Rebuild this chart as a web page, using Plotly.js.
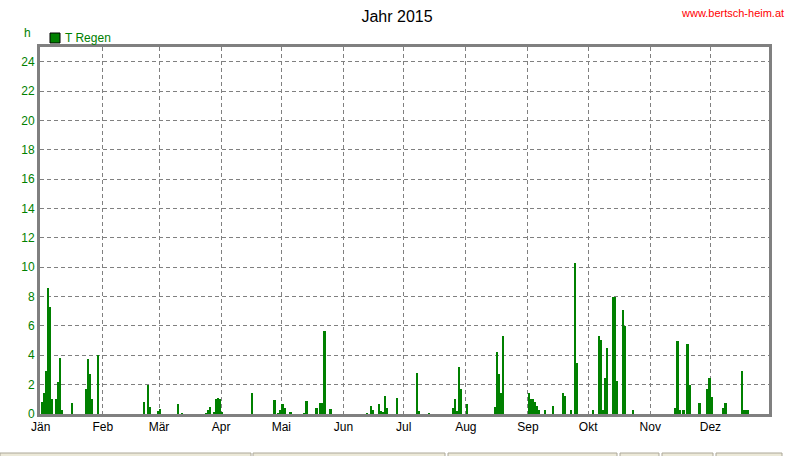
<!DOCTYPE html>
<html>
<head>
<meta charset="utf-8">
<script src="https://cdn.plot.ly/plotly-3.0.1.min.js"></script>
<style>html,body{margin:0;padding:0;background:#fff;}#chart{width:790px;height:456px;}</style>
</head>
<body>
<div id="chart"></div>
<script>
// Day of year (0 = 1 Jan 2015) with rain
const rainDays = [0,1,2,3,4,5, 7,8,9,10, 15, 22,23,24,25, 28,
  51,53,54, 58,59, 68,70, 82,83,84, 86,87,88,89,90, 105,
  116,118,119,120,121,124, 131,132,137,139,140,141,144,
  162,164,165,168,169,170,171,172, 177, 187,188, 193,
  205,206,207,208,209, 212, 226,227,228,229,230,
  243,244,245,246,247,248, 251,255, 260,261,264,266,267, 275,
  278,279,280,281,282, 285,286,287, 290,291, 295,
  316,317,318,320,322,323, 328, 332,333,334, 340,341, 349,350,351,352];
// Rain duration in hours
const rainHours = [0.8,1.4,2.9,8.6,7.3,1.0, 1.0,2.2,3.8,0.3, 0.75, 1.7,3.75,2.7,1.05, 4.0,
  0.8,2.0,0.5, 0.2,0.35, 0.7,0.1, 0.1,0.3,0.5, 0.15,1.0,1.1,1.0,0.15, 1.4,
  0.95,0.1,0.25,0.7,0.4,0.12, 0.07,0.87,0.4,0.73,0.75,5.63,0.32,
  0.1,0.57,0.25,0.67,0.2,0.12,1.2,0.4, 1.06, 2.8,0.23, 0.05,
  0.44,1.0,0.23,3.2,1.7, 0.7, 0.46,4.25,2.74,1.44,5.28,
  1.44,1.05,1.05,0.8,0.55,0.3, 0.27,0.55, 1.44,1.2,0.27,10.3,3.5, 0.27,
  5.28,5.03,0.27,2.47,4.53, 8.0,8.0,2.26, 7.06,6.0, 0.27,
  0.44,5.0,0.25,0.25,4.74,1.95, 0.74, 1.7,2.46,1.15, 0.44,0.74, 2.94,0.25,0.25,0.25];
const monthStarts = [0,31,59,90,120,151,181,212,243,273,304,334];
const monthLabels = ['Jän','Feb','Mär','Apr','Mai','Jun','Jul','Aug','Sep','Okt','Nov','Dez'];
const yTicks = [0,2,4,6,8,10,12,14,16,18,20,22,24];
const seriesName = 'T Regen';

const L = 40, R = 21, T = 47, B = 42, W = 790, H = 456;
const pw = W - L - R, ph = H - T - B;
const px = x => (x - L) / pw;
const py = y => (H - B - y) / ph;

const green = '#008000', gray = '#808080';
const fam = 'Liberation Sans, Arial, sans-serif';

const trace = {
  type: 'bar', name: seriesName, x: rainDays, y: rainHours,
  width: 1.1, offset: 0,
  marker: {color: green, line: {width: 0}},
  hoverinfo: 'x+y', showlegend: false
};

const panels = [[0,251],[253,445],[448,617],[620,659],[662,713],[716,782]];
const shapes = panels.map(p => ({
  type: 'rect', xref: 'paper', yref: 'paper',
  x0: px(p[0]), x1: px(p[1]), y0: py(453), y1: py(462),
  fillcolor: '#ECE9D8', line: {color: '#ACA899', width: 1}, layer: 'above'
}));
shapes.push({type: 'rect', xref: 'paper', yref: 'paper',
  x0: px(50), x1: px(60), y0: py(43), y1: py(33),
  fillcolor: green, line: {color: '#000', width: 1}});

const layout = {
  width: W, height: H,
  margin: {l: L, r: R, t: T, b: B, pad: 0},
  paper_bgcolor: '#fff', plot_bgcolor: '#fff',
  bargap: 0,
  font: {family: fam, size: 12, color: '#000'},
  title: {text: 'Jahr 2015', font: {family: fam, size: 16, color: '#000'},
    xref: 'container', x: 397/790, xanchor: 'center', yref: 'container', y: 1 - 16/456, yanchor: 'middle'},
  xaxis: {
    range: [-0.35, 363.2], tickmode: 'array', tickvals: monthStarts, ticktext: monthLabels,
    showgrid: true, gridcolor: gray, gridwidth: 1, griddash: '4px,3px',
    showline: true, linecolor: gray, linewidth: 3, mirror: true,
    ticks: '', zeroline: false, fixedrange: true,
    tickfont: {family: fam, size: 12, color: '#000'}
  },
  yaxis: {
    range: [0, 25], tickmode: 'array', tickvals: yTicks,
    showgrid: true, gridcolor: gray, gridwidth: 1, griddash: '4px,3px',
    showline: true, linecolor: gray, linewidth: 3, mirror: true,
    ticks: '', zeroline: false, fixedrange: true,
    tickfont: {family: fam, size: 12, color: green}
  },
  shapes: shapes,
  annotations: [
    {text: 'h', xref: 'paper', yref: 'paper', x: px(27), y: py(33), xanchor: 'center', yanchor: 'middle',
      showarrow: false, font: {family: fam, size: 12, color: green}},
    {text: seriesName, xref: 'paper', yref: 'paper', x: px(63), y: py(38), xanchor: 'left', yanchor: 'middle',
      showarrow: false, font: {family: fam, size: 12, color: green}},
    {text: 'www.bertsch-heim.at', xref: 'paper', yref: 'paper', x: px(732), y: py(13), xanchor: 'center', yanchor: 'middle',
      showarrow: false, font: {family: fam, size: 11, color: '#FF0000'}}
  ]
};

Plotly.newPlot('chart', [trace], layout, {displayModeBar: false, staticPlot: true});
</script>
</body>
</html>
